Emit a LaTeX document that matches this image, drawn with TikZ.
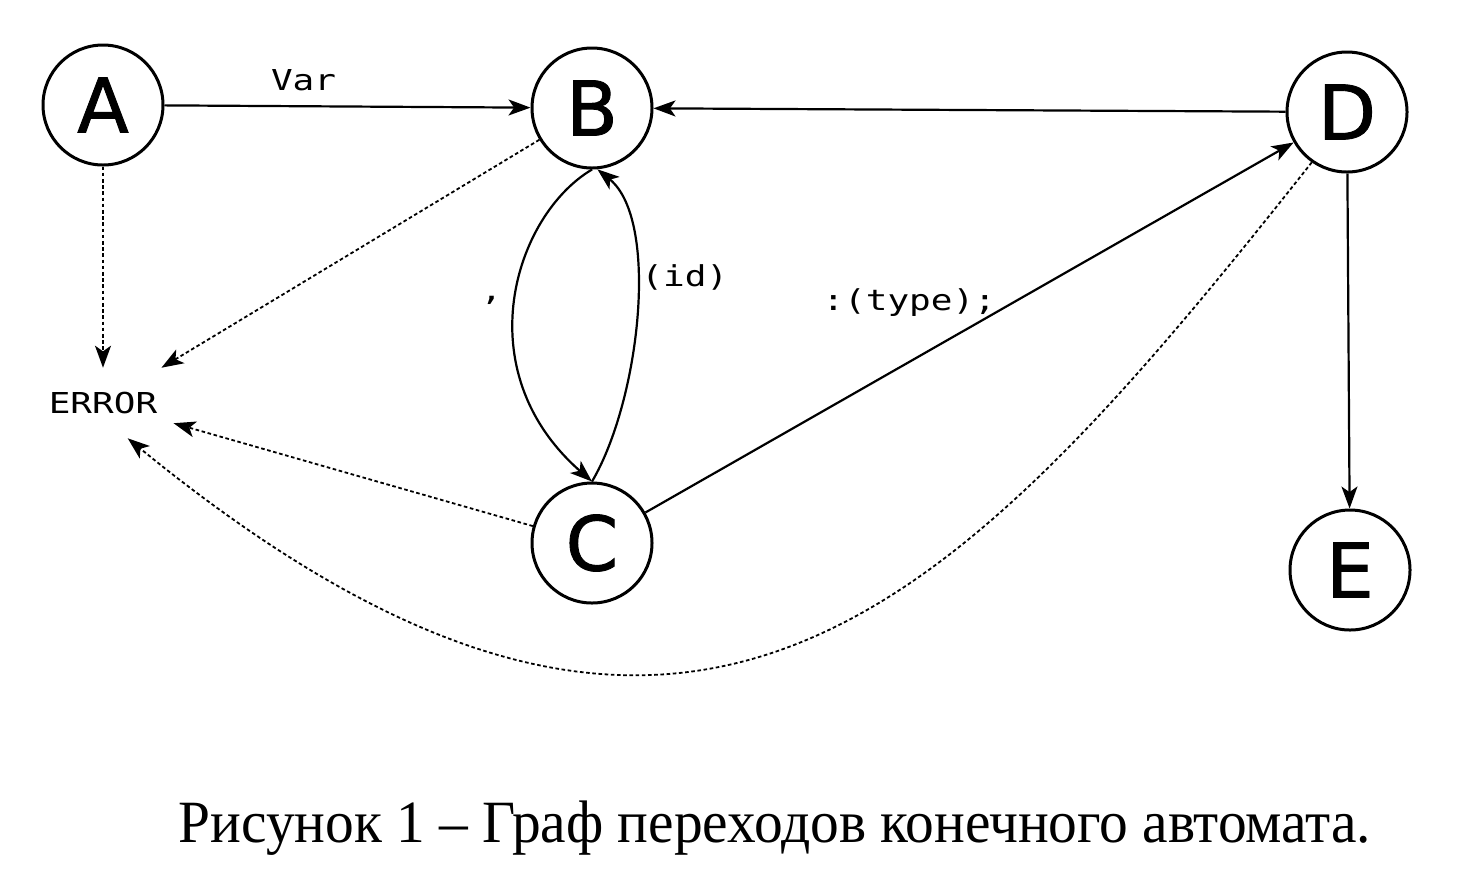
\documentclass[tikz,border=0pt]{standalone}
\usepackage{fontspec}
\usepackage{tikz}
\usetikzlibrary{arrows.meta}
\newfontfamily\letterfont{DejaVu Sans}[FakeBold=1.2]
\newfontfamily\lblfont{DejaVu Sans Mono}[FakeStretch=1.25]
\newfontfamily\capfont{Liberation Serif}[FakeStretch=0.957]

\begin{document}
\begin{tikzpicture}[
  x=0.5pt, y=-0.5pt,
  state/.style={circle, draw, line width=1.5pt, minimum size=60pt, inner sep=0pt,
    font=\letterfont\fontsize{37.7}{40}\selectfont},
  lbl/.style={font=\lblfont\fontsize{14.4}{16}\selectfont, inner sep=2pt},
  arr/.style={-{Stealth[length=11pt, width=8pt, inset=2.8pt]}, line width=1.1pt},
  err/.style={arr, line width=0.9pt, dash pattern=on 1.8pt off 1.3pt}]

\useasboundingbox (0,0) rectangle (1466,891);

\node[state] (A) at (103,105) {A};
\node[state] (B) at (592,108) {B};
\node[state] (C) at (592,543) {C};
\node[state] (D) at (1347,112) {D};
\node[state] (E) at (1350,570) {E};
\node[lbl, inner xsep=8pt, inner ysep=12pt] (err) at (103,403) {ERROR};
\node[font=\capfont\fontsize{30}{34}\selectfont] (cap) at (775,828)
  {Рисунок 1 – Граф переходов конечного автомата.};

% transitions
\draw[arr] (A) -- node[lbl, pos=0.38, above=5pt] {Var} (B);
\draw[arr] (D) -- (B);
\draw[arr] (B.south) .. controls (515,215) and (465,370) ..
  node[lbl, pos=0.5, anchor=base east, xshift=-4pt] {,} (C.north);
\draw[arr] (C.north) .. controls (640,400) and (660,220) ..
  node[lbl, pos=0.6, anchor=west] {(id)} (B.-85);
\draw[arr] (C) -- node[lbl, pos=0.527, anchor=south east, inner sep=0pt, xshift=5pt]
  {:(type);} (D);
\draw[arr] (D) -- (E);

% errors
\draw[err] (A) -- (err);
\draw[err] (B) -- (err);
\draw[err] (C) -- (err);
\draw[err] (D.-125) .. controls (950,620) and (687,895) .. (err.-55);
\end{tikzpicture}
\end{document}
